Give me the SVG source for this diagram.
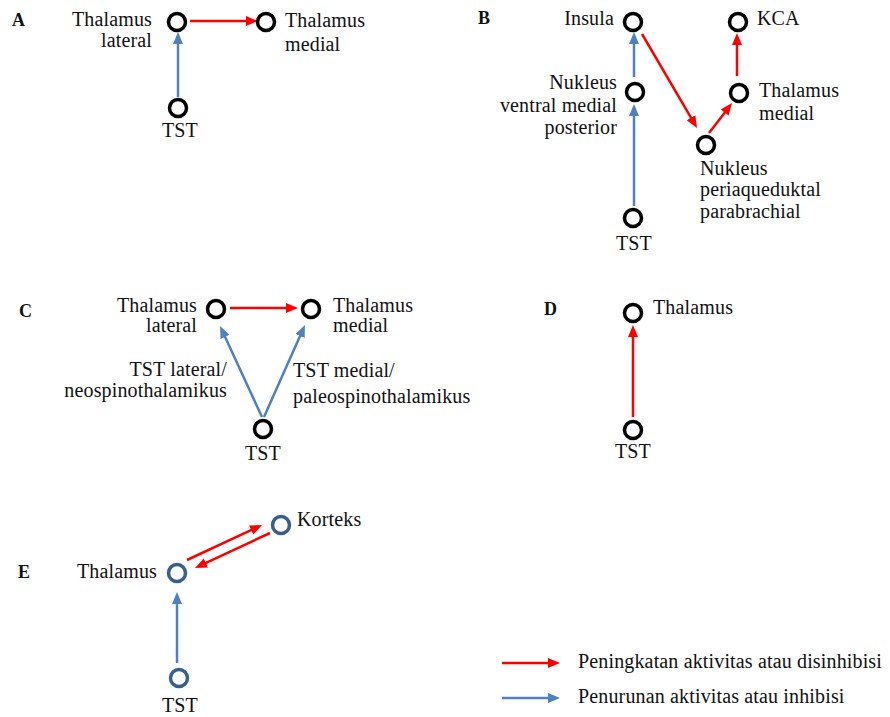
<svg xmlns="http://www.w3.org/2000/svg" width="890" height="717" viewBox="0 0 890 717">
<style>
text{font-family:"Liberation Serif","Times New Roman","DejaVu Serif",serif;font-size:20px;fill:#111;letter-spacing:0.15px}
.lab{font-weight:bold;font-size:18px}
.e{text-anchor:end}
.m{text-anchor:middle}
.n{fill:none;stroke:#000;stroke-width:3.5}
.nb{fill:none;stroke:#3B5F8C;stroke-width:3.5}
.r{stroke:#FF0000;stroke-width:2.5;fill:none}
.b{stroke:#4F81BD;stroke-width:2.5;fill:none}
</style>
<defs>
<marker id="ar" markerUnits="userSpaceOnUse" markerWidth="12" markerHeight="10" viewBox="0 0 12 10" refX="4" refY="5" orient="auto"><path d="M0,0 L12,5 L0,10 z" fill="#FF0000"/></marker>
<marker id="ab" markerUnits="userSpaceOnUse" markerWidth="12" markerHeight="10" viewBox="0 0 12 10" refX="4" refY="5" orient="auto"><path d="M0,0 L12,5 L0,10 z" fill="#4F81BD"/></marker>
</defs>
<rect width="890" height="717" fill="#fff"/>
<g id="labels">
<text class="lab" x="12" y="26">A</text>
<text class="lab" x="478" y="24">B</text>
<text class="lab" x="19" y="317">C</text>
<text class="lab" x="544" y="315">D</text>
<text class="lab" x="18" y="578">E</text>
</g>
<g id="connectors">
<line class="r" x1="190" y1="21" x2="250" y2="21" marker-end="url(#ar)"/>
<line class="b" x1="178" y1="97" x2="178" y2="40" marker-end="url(#ab)"/>
<line class="b" x1="634" y1="77" x2="634" y2="40" marker-end="url(#ab)"/>
<line class="b" x1="634" y1="206" x2="634" y2="112" marker-end="url(#ab)"/>
<line class="r" x1="642" y1="34" x2="693" y2="121.1" marker-end="url(#ar)"/>
<line class="r" x1="709" y1="133" x2="727.1" y2="109.4" marker-end="url(#ar)"/>
<line class="r" x1="737" y1="76" x2="737" y2="41" marker-end="url(#ar)"/>
<line class="r" x1="230" y1="308" x2="290" y2="308" marker-end="url(#ar)"/>
<line class="b" x1="262" y1="417" x2="223.4" y2="333.3" marker-end="url(#ab)"/>
<line class="b" x1="264" y1="417" x2="301.7" y2="332.3" marker-end="url(#ab)"/>
<line class="r" x1="633" y1="417" x2="633" y2="333" marker-end="url(#ar)"/>
<line class="r" x1="187" y1="560" x2="254.8" y2="528.4" marker-end="url(#ar)"/>
<line class="r" x1="270" y1="533" x2="202.2" y2="564.6" marker-end="url(#ar)"/>
<line class="b" x1="177" y1="663" x2="177" y2="600" marker-end="url(#ab)"/>
<line class="r" x1="502" y1="663" x2="552" y2="663" marker-end="url(#ar)"/>
<line class="b" x1="502" y1="698" x2="552" y2="698" marker-end="url(#ab)"/>
</g>
<g id="A-thal-lat"><circle class="n" cx="177" cy="22" r="8.5"/><text class="e" x="152" y="26">Thalamus</text><text class="e" x="152" y="47">lateral</text></g>
<g id="A-thal-med"><circle class="n" cx="266" cy="22" r="8.5"/><text x="285" y="27">Thalamus</text><text x="285" y="51">medial</text></g>
<g id="A-tst"><circle class="n" cx="178" cy="108" r="8.5"/><text class="m" x="180" y="137">TST</text></g>
<g id="B-insula"><circle class="n" cx="633" cy="22" r="8.5"/><text class="e" x="614" y="25">Insula</text></g>
<g id="B-kca"><circle class="n" cx="738" cy="22" r="8.5"/><text x="757" y="25">KCA</text></g>
<g id="B-nvmp"><circle class="n" cx="635" cy="92" r="8.5"/><text class="e" x="617" y="89">Nukleus</text><text class="e" x="617" y="112">ventral medial</text><text class="e" x="617" y="134">posterior</text></g>
<g id="B-thal-med"><circle class="n" cx="739" cy="93" r="8.5"/><text x="759" y="97">Thalamus</text><text x="759" y="120">medial</text></g>
<g id="B-npp"><circle class="n" cx="706" cy="145" r="8.5"/><text x="700" y="175">Nukleus</text><text x="700" y="196">periaqueduktal</text><text x="700" y="218">parabrachial</text></g>
<g id="B-tst"><circle class="n" cx="633" cy="218" r="8.5"/><text class="m" x="634" y="250">TST</text></g>
<g id="C-thal-lat"><circle class="n" cx="216" cy="309" r="8.5"/><text class="e" x="197" y="312">Thalamus</text><text class="e" x="197" y="332">lateral</text></g>
<g id="C-thal-med"><circle class="n" cx="311" cy="309" r="8.5"/><text x="333" y="312">Thalamus</text><text x="333" y="332">medial</text></g>
<g id="C-tst"><circle class="n" cx="263" cy="429" r="8.5"/><text class="m" x="263" y="460">TST</text></g>
<g id="C-labels"><text class="e" x="227" y="376">TST lateral/</text><text class="e" x="227" y="397">neospinothalamikus</text><text x="293" y="377">TST medial/</text><text x="293" y="403">paleospinothalamikus</text></g>
<g id="D-thal"><circle class="n" cx="633" cy="313" r="8.5"/><text x="653" y="314">Thalamus</text></g>
<g id="D-tst"><circle class="n" cx="633" cy="430" r="8.5"/><text class="m" x="633" y="458">TST</text></g>
<g id="E-thal"><circle class="nb" cx="177" cy="573" r="8.5"/><text class="e" x="157" y="578">Thalamus</text></g>
<g id="E-korteks"><circle class="nb" cx="281" cy="525" r="8.5"/><text x="297" y="526">Korteks</text></g>
<g id="E-tst"><circle class="nb" cx="179" cy="678" r="8.5"/><text class="m" x="180" y="712">TST</text></g>
<g id="legend"><text x="578" y="668">Peningkatan aktivitas atau disinhibisi</text><text x="578" y="703">Penurunan aktivitas atau inhibisi</text></g>
</svg>
